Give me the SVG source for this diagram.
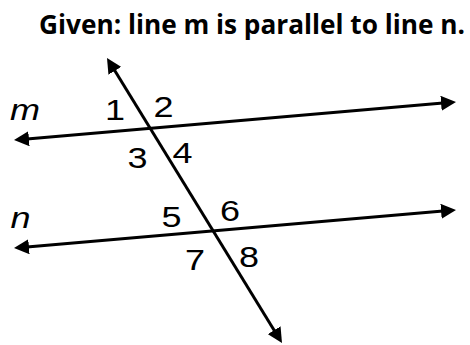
<svg xmlns="http://www.w3.org/2000/svg" width="470" height="345" viewBox="0 0 470 345">
  <style>
    .title { font-family: "Open Sans", "Liberation Sans", sans-serif; font-weight: bold; font-size: 26px; fill: #000; }
    .lbl { font-family: "Liberation Sans", Arial, sans-serif; font-size: 30px; fill: #000; text-anchor: middle; }
    .var { font-style: italic; }
    .ln { stroke: #000; stroke-width: 3; fill: none; marker-start: url(#arr); marker-end: url(#arr); }
  </style>
  <defs>
    <marker id="arr" markerUnits="userSpaceOnUse" markerWidth="15" markerHeight="15" refX="2" refY="7.5" orient="auto-start-reverse" viewBox="0 0 15 15">
      <path d="M0,0 L15,7.5 L0,15 z" fill="#000"/>
    </marker>
  </defs>
  <rect width="470" height="345" fill="#fff"/>
  <g id="title">
    <text class="title" x="39" y="34" textLength="426" lengthAdjust="spacingAndGlyphs">Given: line m is parallel to line n.</text>
  </g>
  <g id="connectors">
    <path id="line-m" class="ln" d="M26.95,138.89 L443.05,103.11"/>
    <path id="line-n" class="ln" d="M26.95,246.89 L443.05,211.11"/>
    <path id="transversal" class="ln" d="M113.8,69.08 L275.2,331.92"/>
  </g>
  <g id="label-m"><text class="lbl var" transform="translate(25,120) scale(1.2,1)">m</text></g>
  <g id="label-n"><text class="lbl var" transform="translate(20.5,228) scale(1.2,1)">n</text></g>
  <g id="angle-1"><text class="lbl" transform="translate(115,120) scale(1.2,1)">1</text></g>
  <g id="angle-2"><text class="lbl" transform="translate(163.5,117) scale(1.2,1)">2</text></g>
  <g id="angle-3"><text class="lbl" transform="translate(137.5,168) scale(1.2,1)">3</text></g>
  <g id="angle-4"><text class="lbl" transform="translate(182.5,163) scale(1.2,1)">4</text></g>
  <g id="angle-5"><text class="lbl" transform="translate(171.5,227) scale(1.2,1)">5</text></g>
  <g id="angle-6"><text class="lbl" transform="translate(230,221) scale(1.2,1)">6</text></g>
  <g id="angle-7"><text class="lbl" transform="translate(195,270) scale(1.2,1)">7</text></g>
  <g id="angle-8"><text class="lbl" transform="translate(249,267) scale(1.2,1)">8</text></g>
</svg>
